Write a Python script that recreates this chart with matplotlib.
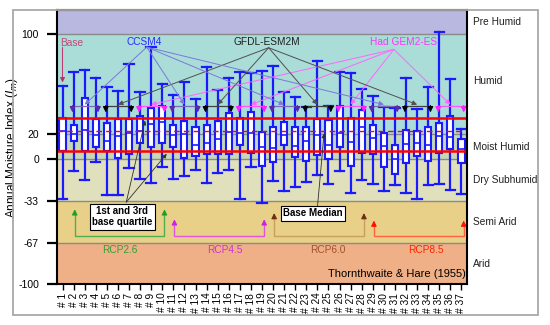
import matplotlib
matplotlib.use("Agg")
import matplotlib.pyplot as plt
from matplotlib.patches import Rectangle
import matplotlib.transforms as mtransforms

plt.rcParams['font.family'] = ['Liberation Sans', 'DejaVu Sans']

# ---------------- data ----------------
tick_labels = ["# %d" % i for i in range(1, 38)]
whis_hi = [58.5, 69.8, 71.4, 65.0, 57.5, 54.4, 76.2, 54.1, 89.8, 60.0,
           51.2, 61.8, 48.0, 73.5, 55.4, 65.0, 69.5, 69.3, 70.3, 74.6,
           53.5, 50.0, 41.5, 78.4, 42.6, 69.8, 69.0, 56.5, 50.3, 42.1,
           41.0, 65.0, 40.5, 57.5, 101.7, 64.5, 24.5]
q3 = [33.0, 27.2, 48.8, 32.0, 29.3, 32.0, 32.0, 34.6, 41.0, 42.6,
      27.7, 30.4, 26.1, 27.2, 30.4, 37.3, 33.1, 38.2, 21.5, 26.1,
      30.2, 26.1, 25.6, 32.6, 31.4, 42.6, 33.1, 39.4, 27.8, 21.3,
      11.7, 23.5, 22.4, 25.6, 28.8, 34.6, 16.0]
med = [22.6, 20.0, 23.5, 19.2, 14.4, 18.7, 20.8, 22.6, 28.0, 30.0,
       19.2, 20.0, 11.2, 13.3, 16.0, 22.0, 21.3, 21.3, 10.0, 9.2,
       19.5, 10.5, 15.0, 19.5, 11.2, 21.3, 13.6, 26.0, 17.0, 10.7,
       0.0, 12.5, 13.3, 11.7, 18.7, 18.1, 8.0]
q1 = [6.4, 14.4, 7.0, 10.1, 6.4, 1.1, 4.3, 12.8, 9.6, 12.8,
      9.6, 1.1, 2.7, 4.5, 4.5, 4.2, 11.2, 5.3, -5.2, -2.1,
      11.6, 1.5, -1.6, 3.6, 0.0, 9.5, -5.2, 4.8, 4.6, -6.0,
      -11.5, -2.6, 2.7, -1.6, 4.8, 8.0, -3.0]
whis_lo = [-32.0, -9.3, -16.5, -2.0, -28.8, -28.2, -6.6, -16.0, -18.6, -6.1,
           -16.0, -13.0, -8.8, -19.2, -11.2, -8.5, -31.4, -5.8, -34.6, -17.3,
           -25.5, -22.0, -18.1, -12.5, -19.5, -9.2, -26.6, -16.5, -20.0, -25.3,
           -20.8, -26.6, -32.0, -20.5, -20.0, -24.5, -27.5]

# climate classes (Thornthwaite & Hare 1955)
class_names = ["Pre Humid", "Humid", "Moist Humid", "Dry Subhumid", "Semi Arid", "Arid"]
class_lo = [100, 20, 0, -33, -67, -100]
class_hi = [120, 100, 20, 0, -33, -67]
class_label_y = [110, 63, 10, -16.5, -50, -83.5]
class_colors = ["#b8b8e0", "#aadcd8", "#c6d8b6", "#e0e0bc", "#e8d088", "#efb088"]

yticks = [100, 20, 0, -33, -67, -100]
ytick_labels = ["100", "20", "0", "-33", "-67", "-100"]

gcm_names = ["CCSM4", "GFDL-ESM2M", "Had GEM2-ES"]
gcm_text_colors = ["#2a2aff", "#202020", "#ff33ff"]
gcm_line_colors = ["#7a78d8", "#505050", "#ff66ff"]
gcm_bracket_colors = ["#7a68b8", "#404040", "#ff55ff"]
gcm_head_colors = ["#5a28a8", "#000000", "#ff22ff"]
gcm_text_x = [8.4, 19.4, 31.8]
gcm_line_origin = [(8.6, 89.8), (19.6, 89.3), (30.9, 88.0)]

rcp_names = ["RCP2.6", "RCP4.5", "RCP6.0", "RCP8.5"]
rcp_text_colors = ["#30a030", "#cc33cc", "#a0522d", "#ff2200"]
rcp_line_colors = ["#50b050", "#dd55dd", "#c8a060", "#ff6040"]
rcp_head_colors = ["#20a020", "#cc22dd", "#6b3010", "#ff1100"]
rcp_tip_y = [-40, -48, -43, -49]
rcp_text_x = [6.2, 15.6, 24.9, 33.8]

# ---------------- figure ----------------
fig = plt.figure(figsize=(5.5, 3.25), dpi=100)
ax = fig.add_axes([57/550, 1-284.3/325, 410/550, 274.3/325])
ax.set_xlim(0.5, 37.5)
ax.set_ylim(-100, 119.5)

trans_band = mtransforms.blended_transform_factory(ax.transAxes, ax.transData)
for name, lo, hi, c, ly in zip(class_names, class_lo, class_hi, class_colors, class_label_y):
    ax.axhspan(lo, hi, color=c, zorder=0, lw=0)
    ax.text(1.014, ly, name, transform=trans_band, ha="left", va="center",
            fontsize=7.3, color="#202020", clip_on=False)
for b in class_lo[:-1]:
    ax.axhline(b, color="#8a8a8a", lw=1.0, zorder=0.5)

positions = list(range(1, 38))
stats = [dict(med=m, q1=a, q3=b, whislo=lo, whishi=hi, fliers=[])
         for m, a, b, lo, hi in zip(med, q1, q3, whis_lo, whis_hi)]
blue = "#1a1aff"
ax.bxp(stats, positions=positions, widths=0.55, capwidths=0.85,
       showfliers=False, patch_artist=True, manage_ticks=False,
       boxprops=dict(facecolor="white", edgecolor=blue, linewidth=1.5),
       whiskerprops=dict(color=blue, linewidth=1.6),
       capprops=dict(color=blue, linewidth=1.6),
       medianprops=dict(color=blue, linewidth=1.2), zorder=2)

# base quartiles & median
ax.axhline(q3[0], color="#ff0000", lw=1.8, zorder=3)
ax.axhline(q1[0], color="#ff0000", lw=1.8, zorder=3)
ax.axhline(med[0], color="#ff0000", lw=1.0, ls=(0, (4, 3)), zorder=3)

# axes styling
ax.set_yticks(yticks)
ax.set_yticklabels(ytick_labels, fontsize=7.5)
ax.set_xticks(positions)
ax.set_xticklabels(tick_labels, rotation=90, fontsize=7.3)
ax.tick_params(axis="y", direction="out", length=7, width=1.6, pad=6, color="black")
ax.tick_params(axis="x", direction="out", length=4, width=1.0, pad=2, color="black")
for s in ax.spines.values():
    s.set_linewidth(1.5)
    s.set_color("black")
    s.set_zorder(5)
ax.set_ylabel("Annual Moisture Index ($I_m$)", fontsize=8.5)
ax.yaxis.set_label_coords(-0.09, 0.5)


def arrow(xy, xytext, color, lw=0.7, ms=7, headcolor=None):
    ax.annotate("", xy=xy, xytext=xytext,
                arrowprops=dict(arrowstyle="-|>", color=color, lw=lw,
                                mutation_scale=ms, shrinkA=0, shrinkB=0),
                zorder=4, annotation_clip=False)


# Base label
ax.text(0.77, 93.3, "Base", color="#c04a7a", fontsize=7.3, ha="left", va="center", zorder=4)
arrow((1.0, 61.5), (1.0, 89.5), "#b83068", lw=0.7, ms=7)

# GCM labels
for k, name in enumerate(gcm_names):
    ax.text(gcm_text_x[k], 94, name, color=gcm_text_colors[k], fontsize=7.3,
            ha="center", va="center", zorder=4)

# brackets for each GCM within each RCP block
ybr, ydrop = 43.0, 37.5
for r in range(4):
    for k in range(3):
        s = 2 + 9 * r + 3 * k
        c = gcm_bracket_colors[k]
        ax.plot([s - 0.1, s + 2.2], [ybr, ybr], color=c, lw=0.9, zorder=4)
        ax.annotate("", xy=(s - 0.1, ydrop), xytext=(s - 0.1, ybr),
                    arrowprops=dict(arrowstyle="-|>", color=gcm_head_colors[k], lw=0.9,
                                    mutation_scale=8, shrinkA=0, shrinkB=0), zorder=4)
        ax.annotate("", xy=(s + 2.2, ydrop), xytext=(s + 2.2, ybr),
                    arrowprops=dict(arrowstyle="-|>", color=gcm_head_colors[k], lw=0.9,
                                    mutation_scale=8, shrinkA=0, shrinkB=0), zorder=4)
        ax.annotate("", xy=(s + 1, ybr + 0.8), xytext=gcm_line_origin[k],
                    arrowprops=dict(arrowstyle="-|>", color=gcm_line_colors[k], lw=0.7,
                                    mutation_scale=7, shrinkA=0, shrinkB=0), zorder=4)

# RCP brackets
yh = -61.0
for r, name in enumerate(rcp_names):
    a, b = 2 + 9 * r + 0.1, 2 + 9 * r + 8 + 0.2
    c = rcp_line_colors[r]
    ax.plot([a, a, b, b], [rcp_tip_y[r] - 3, yh, yh, rcp_tip_y[r] - 3], color=c, lw=1.0, zorder=4)
    for xx in (a, b):
        ax.annotate("", xy=(xx, rcp_tip_y[r]), xytext=(xx, rcp_tip_y[r] - 4),
                    arrowprops=dict(arrowstyle="-|>", color=rcp_head_colors[r], lw=0.8,
                                    mutation_scale=8, shrinkA=0, shrinkB=0), zorder=4)
    ax.text(rcp_text_x[r], -72.7, name, color=rcp_text_colors[r], fontsize=7.3,
            ha="center", va="center", zorder=4)

# quartile / median callouts
boxstyle = dict(boxstyle="square,pad=0.25", facecolor="white", edgecolor="black", lw=0.8)
ax.text(6.4, -45.9, "1st and 3rd\nbase quartile", fontsize=7, fontweight="bold",
        ha="center", va="center", bbox=boxstyle, linespacing=1.15, zorder=5)
arrow((8.45, q3[0] - 2), (6.75, -34.3), "#303030", lw=0.6, ms=6)
arrow((10.4, q1[0] - 2), (6.75, -34.3), "#303030", lw=0.6, ms=6)
ax.text(23.6, -43.1, "Base Median", fontsize=7, fontweight="bold",
        ha="center", va="center", bbox=boxstyle, zorder=5)
arrow((24.6, med[0] - 2), (24.0, -38.5), "#303030", lw=0.6, ms=6)

ax.text(37.4, -91.9, "Thornthwaite & Hare (1955)", fontsize=8, ha="right",
        va="center", color="black", zorder=4)

# outer frame
fig.add_artist(Rectangle((13/550, 1-315/325), 525/550, 305/325, transform=fig.transFigure,
                         fill=False, edgecolor="#a8a8a8", lw=1.3))

fig.savefig("out.png", dpi=100)
